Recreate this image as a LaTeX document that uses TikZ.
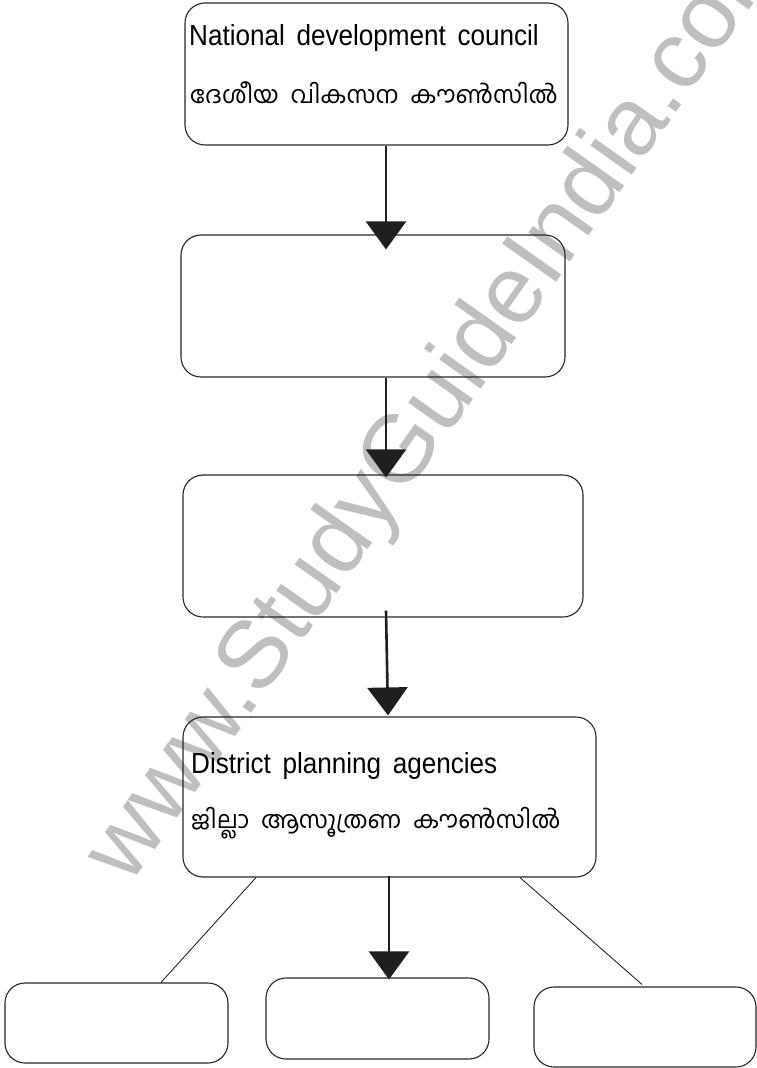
\documentclass[tikz,border=0pt]{standalone}
\usepackage{fontspec}
\usetikzlibrary{arrows.meta}
\newfontfamily\engfont{Liberation Sans}[FakeStretch=0.9, WordSpace=1.6]
\newfontfamily\wmfont{Liberation Sans}
\newfontfamily\malfont[Script=Malayalam, WordSpace=2]{Hind Kochi}
\begin{document}
\begin{tikzpicture}[x=1pt,y=1pt,
  box/.style={draw=black!85, line width=1.1pt, rounded corners=20pt, inner sep=0pt, rectangle},
  arr/.style={line width=2.6pt, draw=black!88, -{Triangle[width=40pt,length=28pt]}},
  thin/.style={line width=0.9pt, draw=black!85},
  eng/.style={anchor=base west, inner sep=0pt, font=\engfont\fontsize{29}{31}\selectfont},
  mal/.style={anchor=base west, inner sep=0pt, font=\malfont\fontsize{24}{26}\selectfont}]
\useasboundingbox (0,0) rectangle (757,-1068);
\clip (0,0) rectangle (757,-1068);
% watermark
\node[anchor=base west, inner sep=0pt, rotate=54.75, text=black!25,
  font=\wmfont\fontsize{96}{100}\selectfont] (wm) at (129.5,-886.6) {www.StudyGuideIndia.com};
% boxes
\node[box, minimum width=383pt, minimum height=142pt] (b1) at (376.5,-74) {};
\node[box, minimum width=384pt, minimum height=142pt] (b2) at (373,-306) {};
\node[box, minimum width=400pt, minimum height=142pt] (b3) at (383,-546) {};
\node[box, minimum width=413pt, minimum height=160pt] (b4) at (389.5,-797) {};
\node[box, minimum width=223pt, minimum height=80pt] (bA) at (116.5,-1023) {};
\node[box, minimum width=223pt, minimum height=81pt] (bB) at (377.5,-1018.5) {};
\node[box, minimum width=222pt, minimum height=80pt] (bC) at (645,-1027) {};
% texts
\node[eng] (t1) at (189,-45) {National development council};
\node[mal] (t2) at (190,-103) {ദേശീയ വികസന കൗൺസിൽ};
\node[eng] (t3) at (191,-773) {District planning agencies};
\node[mal] (t4) at (191,-828) {ജില്ലാ ആസൂത്രണ കൗൺസിൽ};
% connectors
\draw[arr] ([xshift=9.5pt]b1.south) -- ([xshift=13pt,yshift=-15pt]b2.north);
\draw[arr] ([xshift=13pt]b2.south) -- ([xshift=3pt,yshift=-3pt]b3.north);
\draw[arr] ([xshift=3pt,yshift=7pt]b3.south) -- ([xshift=-1.5pt,yshift=1pt]b4.north);
\draw[arr] ([xshift=-0.5pt,yshift=2pt]b4.south) -- ([xshift=11.5pt,yshift=-2pt]bB.north);
\draw[thin] ([xshift=-133.5pt]b4.south) -- ([xshift=44.5pt]bA.north);
\draw[thin] ([xshift=130.5pt]b4.south) -- ([xshift=-3pt,yshift=2pt]bC.north);
\end{tikzpicture}
\end{document}
